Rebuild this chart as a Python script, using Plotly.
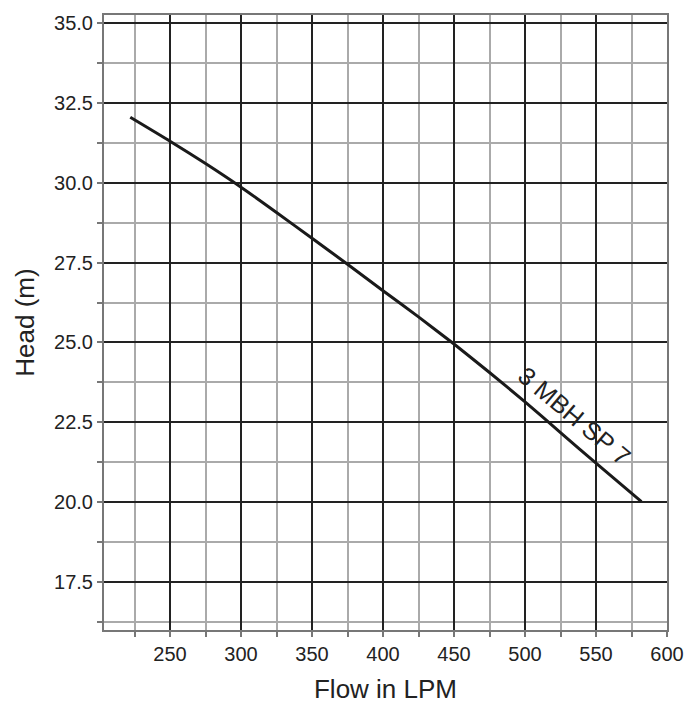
import plotly.graph_objects as go

flow = [222, 250, 275, 300, 325, 350, 375, 400, 425, 450, 475, 500, 525, 550, 582]
head = [32.05, 31.3, 30.6, 29.86, 29.07, 28.26, 27.45, 26.62, 25.8, 24.95, 24.06, 23.14, 22.18, 21.22, 20.02]
curve_label = "3 MBH SP 7"
label_x = 535
label_y = 22.7

font_family = "Liberation Sans, Arial, sans-serif"
major_col = "#222222"
minor_col = "#aaaaaa"
axis_col = "#777777"

fig = go.Figure()
fig.add_trace(go.Scatter(x=flow, y=head, mode="lines",
                         line=dict(color="#1a1a1a", width=3, shape="spline", smoothing=0.6),
                         showlegend=False, hoverinfo="skip"))

fig.add_annotation(x=label_x, y=label_y, text=curve_label, showarrow=False,
                   textangle=40, font=dict(family=font_family, size=25, color="#222222"))

axis_common = dict(
    showline=True, linecolor=axis_col, linewidth=2, mirror=True,
    ticks="outside", ticklen=5, tickcolor=axis_col, tickwidth=2,
    showgrid=True, gridcolor=major_col, gridwidth=1.5,
    zeroline=False,
    tickfont=dict(family=font_family, size=20, color="#222222"),
)

fig.update_xaxes(
    range=[203.5, 600], dtick=50, tick0=0,
    minor=dict(dtick=25, tick0=0, showgrid=True, gridcolor=minor_col, gridwidth=1.5,
               ticks="outside", ticklen=5, tickcolor=axis_col, tickwidth=2),
    title=dict(text="Flow in LPM", font=dict(family=font_family, size=26, color="#222222"), standoff=16),
    **axis_common,
)
fig.update_yaxes(
    range=[16, 35.25], dtick=2.5, tick0=0, tickformat=".1f",
    minor=dict(dtick=1.25, tick0=0, showgrid=True, gridcolor=minor_col, gridwidth=1.5,
               ticks="outside", ticklen=5, tickcolor=axis_col, tickwidth=2),
    title=dict(text="Head (m)", font=dict(family=font_family, size=26, color="#222222"), standoff=12),
    **axis_common,
)

fig.update_layout(
    width=687, height=698,
    margin=dict(l=96, r=28, t=4, b=76),
    plot_bgcolor="white", paper_bgcolor="white",
)

fig.write_html("out.html")
